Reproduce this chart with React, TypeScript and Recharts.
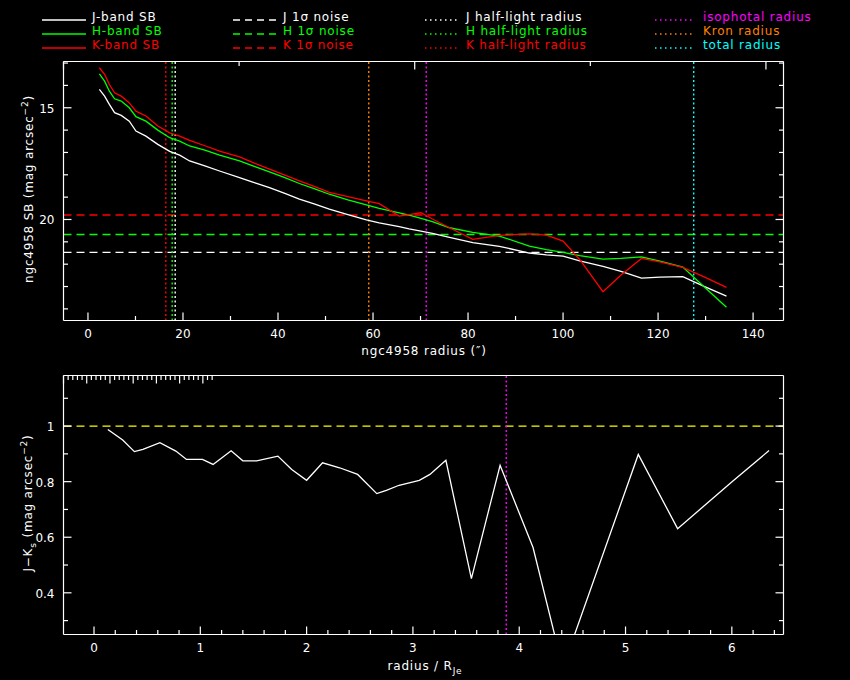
import React from 'react';
import { ComposedChart, Line, XAxis, YAxis, ReferenceLine } from 'recharts';

// surface brightness profiles of ngc4958 (radius in arcsec, SB in mag arcsec^-2)
const radius = [
  2.4, 3.5, 4.5, 5.6, 7.0, 8.7, 10.1, 12.2, 14.7, 17.2, 19.3, 21.4, 24.6, 27.7,
  31.9, 35.0, 38.2, 41.3, 44.5, 47.6, 50.8, 54.7, 58.6, 61.3, 65.5, 67.6, 70.1,
  72.5, 76.1, 81.0, 86.6, 92.9, 96.5, 100.0, 103.5, 108.4, 112.2, 116.5, 120.4,
  125.2, 129.8, 134.4,
];
const jBand = [
  14.18, 14.48, 14.85, 15.22, 15.34, 15.6, 16.04, 16.27, 16.64, 16.95, 17.12,
  17.38, 17.6, 17.83, 18.13, 18.35, 18.57, 18.82, 19.09, 19.3, 19.54, 19.78,
  20.02, 20.15, 20.32, 20.42, 20.52, 20.62, 20.8, 21.04, 21.2, 21.5, 21.58,
  21.64, 21.85, 22.1, 22.32, 22.62, 22.58, 22.56, 23.0, 23.43,
];
const hBand = [
  13.48, 13.81, 14.26, 14.6, 14.7, 15.0, 15.4, 15.6, 16.0, 16.34, 16.49, 16.71,
  16.9, 17.12, 17.38, 17.62, 17.87, 18.12, 18.39, 18.62, 18.87, 19.12, 19.35,
  19.5, 19.7, 19.8, 19.95, 20.1, 20.37, 20.58, 20.74, 21.19, 21.35, 21.47,
  21.62, 21.77, 21.74, 21.67, 21.86, 22.13, 23.03, 23.93,
];
const kBand = [
  13.21, 13.51, 13.96, 14.33, 14.48, 14.78, 15.15, 15.37, 15.82, 16.12, 16.27,
  16.46, 16.7, 16.94, 17.2, 17.48, 17.75, 18.0, 18.27, 18.52, 18.79, 18.98,
  19.17, 19.29, 19.85, 19.78, 19.7, 19.98, 20.37, 20.89, 20.71, 20.64, 20.7,
  20.97, 21.79, 23.23, 22.48, 21.74, 21.9, 22.14, 22.58, 23.04,
];

// 1-sigma noise levels
const jNoise = 21.47;
const hNoise = 20.67;
const kNoise = 19.8;

// characteristic radii (arcsec)
const jHalfLight = 18.36;
const hHalfLight = 17.73;
const kHalfLight = 16.38;
const isophotalRadius = 71.2;
const kronRadius = 59.1;
const totalRadius = 127.5;

// J-Ks colour profile against radius / R_Je
const ratio = [
  0.13, 0.27, 0.38, 0.46, 0.62, 0.77, 0.87, 1.02, 1.12, 1.29, 1.4, 1.53, 1.73,
  1.86, 2.0, 2.15, 2.31, 2.48, 2.66, 2.75, 2.87, 3.06, 3.16, 3.31, 3.55, 3.82,
  4.13, 4.41, 5.12, 5.49, 6.01, 6.35,
];
const jkColour = [
  0.988, 0.95, 0.908, 0.916, 0.94, 0.91, 0.88, 0.88, 0.862, 0.911, 0.875, 0.875,
  0.892, 0.844, 0.805, 0.868, 0.85, 0.826, 0.757, 0.769, 0.787, 0.805, 0.826,
  0.877, 0.451, 0.859, 0.563, 0.13, 0.898, 0.631, 0.802, 0.912,
];
const colourRef = 1;

// ticks
const sbXTicks = [0, 10, 20, 30, 40, 50, 60, 70, 80, 90, 100, 110, 120, 130, 140];
const sbXMajor = [0, 20, 40, 60, 80, 100, 120, 140];
const sbYTicks = [13, 14, 15, 16, 17, 18, 19, 20, 21, 22, 23, 24];
const sbYMajor = [15, 20];
const colXTicks = [
  0, 0.2, 0.4, 0.6, 0.8, 1, 1.2, 1.4, 1.6, 1.8, 2, 2.2, 2.4, 2.6, 2.8, 3, 3.2,
  3.4, 3.6, 3.8, 4, 4.2, 4.4, 4.6, 4.8, 5, 5.2, 5.4, 5.6, 5.8, 6, 6.2, 6.4,
];
const colXMajor = [0, 1, 2, 3, 4, 5, 6];
const colYTicks = [0.3, 0.4, 0.5, 0.6, 0.7, 0.8, 0.9, 1, 1.1];
const colYMajor = [0.4, 0.6, 0.8, 1];

const WHITE = '#ffffff';
const GREEN = '#00ff00';
const RED = '#ff0000';
const MAGENTA = '#ff00ff';
const ORANGE = '#ff8000';
const CYAN = '#00ffff';
const YELLOW = '#ffff00';

const FONT = '"DejaVu Sans", sans-serif';

const sbData = radius.map((r, i) => ({ r, j: jBand[i], h: hBand[i], k: kBand[i] }));
const colData = ratio.map((x, i) => ({ x, jk: jkColour[i] }));

type Side = 'bottom' | 'top' | 'left' | 'right';

// ticks are drawn inside the frame, labels only on majors
function makeTick(side: Side, majors: number[], label: boolean) {
  return (props: any) => {
    const { x, y, payload } = props;
    const v = payload.value;
    const major = majors.some(m => Math.abs(m - v) < 1e-6);
    const len = major ? 8 : 4.5;
    let l = { x1: x, y1: y, x2: x, y2: y };
    if (side === 'bottom') l.y2 = y - len;
    if (side === 'top') l.y2 = y + len;
    if (side === 'left') l.x2 = x + len;
    if (side === 'right') l.x2 = x - len;
    return (
      <g>
        <line {...l} stroke={WHITE} strokeWidth={1.2} />
        {label && major && side === 'bottom' && (
          <text x={x} y={y + 17} textAnchor="middle" fill={WHITE} fontSize={12} fontFamily={FONT}>
            {String(v)}
          </text>
        )}
        {label && major && side === 'left' && (
          <text x={x - 9} y={y + 5} textAnchor="end" fill={WHITE} fontSize={12} fontFamily={FONT}>
            {String(v)}
          </text>
        )}
      </g>
    );
  };
}

const legendCols = [
  {
    x: 42, w: 44, tx: 92, dash: undefined,
    items: [['J-band SB', WHITE], ['H-band SB', GREEN], ['K-band SB', RED]],
  },
  {
    x: 233, w: 44, tx: 283, dash: '7 5',
    items: [['J 1σ noise', WHITE], ['H 1σ noise', GREEN], ['K 1σ noise', RED]],
  },
  {
    x: 425, w: 32, tx: 466, dash: '1.5 3.5',
    items: [['J half-light radius', WHITE], ['H half-light radius', GREEN], ['K half-light radius', RED]],
  },
  {
    x: 655, w: 39, tx: 703, dash: '1.5 3.5',
    items: [['isophotal radius', MAGENTA], ['Kron radius', ORANGE], ['total radius', CYAN]],
  },
];

const textStyle = { fill: WHITE, fontFamily: FONT, fontSize: 12, letterSpacing: 0.8 };

export default function App() {
  const vDash = '2 2.5';
  const hDash = '8 5';
  const refW = 1.4;
  const curveW = 1.3;
  return (
    <div style={{ position: 'absolute', left: 0, top: 0, width: 850, height: 680, background: '#000', overflow: 'hidden' }}>
      {/* surface brightness panel */}
      <div style={{ position: 'absolute', left: 0, top: 0 }}>
        <ComposedChart
          width={850}
          height={370}
          data={sbData}
          margin={{ top: 60.5, right: 56.5, bottom: 19.5, left: 13.5 }}
        >
          <XAxis
            dataKey="r"
            type="number"
            domain={[-5.15, 146.4]}
            allowDataOverflow
            ticks={sbXTicks}
            interval={0}
            height={30}
            tickSize={0}
            tickMargin={0}
            axisLine={{ stroke: WHITE, strokeWidth: 1.2 }}
            tickLine={false}
            tick={makeTick('bottom', sbXMajor, true)}
          />
          <XAxis
            xAxisId="t"
            orientation="top"
            type="number"
            domain={[-5.15, 146.4]}
            allowDataOverflow
            ticks={sbXTicks}
            interval={0}
            height={1}
            tickSize={0}
            tickMargin={0}
            axisLine={{ stroke: WHITE, strokeWidth: 1.2 }}
            tickLine={false}
            tick={makeTick('top', sbXMajor, false)}
          />
          <YAxis
            type="number"
            reversed
            domain={[12.93, 24.52]}
            allowDataOverflow
            ticks={sbYTicks}
            interval={0}
            width={50}
            tickSize={0}
            tickMargin={0}
            axisLine={{ stroke: WHITE, strokeWidth: 1.2 }}
            tickLine={false}
            tick={makeTick('left', sbYMajor, true)}
          />
          <YAxis
            yAxisId="r"
            orientation="right"
            type="number"
            reversed
            domain={[12.93, 24.52]}
            allowDataOverflow
            ticks={sbYTicks}
            interval={0}
            width={10}
            tickSize={0}
            tickMargin={0}
            axisLine={{ stroke: WHITE, strokeWidth: 1.2 }}
            tickLine={false}
            tick={makeTick('right', sbYMajor, false)}
          />

          <ReferenceLine y={jNoise} stroke={WHITE} strokeWidth={refW} strokeDasharray={hDash} />
          <ReferenceLine y={hNoise} stroke={GREEN} strokeWidth={refW} strokeDasharray={hDash} />
          <ReferenceLine y={kNoise} stroke={RED} strokeWidth={refW} strokeDasharray={hDash} />

          <ReferenceLine x={jHalfLight} stroke={WHITE} strokeWidth={refW} strokeDasharray={vDash} />
          <ReferenceLine x={hHalfLight} stroke={GREEN} strokeWidth={refW} strokeDasharray={vDash} />
          <ReferenceLine x={kHalfLight} stroke={RED} strokeWidth={refW} strokeDasharray={vDash} />
          <ReferenceLine x={kronRadius} stroke={ORANGE} strokeWidth={refW} strokeDasharray={vDash} />
          <ReferenceLine x={isophotalRadius} stroke={MAGENTA} strokeWidth={refW} strokeDasharray={vDash} />
          <ReferenceLine x={totalRadius} stroke={CYAN} strokeWidth={refW} strokeDasharray={vDash} />

          <Line type="linear" dataKey="j" stroke={WHITE} strokeWidth={curveW} dot={false} isAnimationActive={false} />
          <Line type="linear" dataKey="h" stroke={GREEN} strokeWidth={curveW} dot={false} isAnimationActive={false} />
          <Line type="linear" dataKey="k" stroke={RED} strokeWidth={curveW} dot={false} isAnimationActive={false} />
        </ComposedChart>
      </div>

      {/* colour panel */}
      <div style={{ position: 'absolute', left: 0, top: 370 }}>
        <ComposedChart
          width={850}
          height={310}
          data={colData}
          margin={{ top: 4.5, right: 56.5, bottom: 15.5, left: 13.5 }}
        >
          <XAxis
            dataKey="x"
            type="number"
            domain={[-0.287, 6.486]}
            allowDataOverflow
            ticks={colXTicks}
            interval={0}
            height={30}
            tickSize={0}
            tickMargin={0}
            axisLine={{ stroke: WHITE, strokeWidth: 1.2 }}
            tickLine={false}
            tick={makeTick('bottom', colXMajor, true)}
          />
          <XAxis
            xAxisId="t"
            orientation="top"
            type="number"
            domain={[-0.287, 6.486]}
            allowDataOverflow
            ticks={colXTicks}
            interval={0}
            height={1}
            tickSize={0}
            tickMargin={0}
            axisLine={{ stroke: WHITE, strokeWidth: 1.2 }}
            tickLine={false}
            tick={makeTick('top', colXMajor, false)}
          />
          <YAxis
            type="number"
            domain={[0.25, 1.182]}
            allowDataOverflow
            ticks={colYTicks}
            interval={0}
            width={50}
            tickSize={0}
            tickMargin={0}
            axisLine={{ stroke: WHITE, strokeWidth: 1.2 }}
            tickLine={false}
            tick={makeTick('left', colYMajor, true)}
          />
          <YAxis
            yAxisId="r"
            orientation="right"
            type="number"
            domain={[0.25, 1.182]}
            allowDataOverflow
            ticks={colYTicks}
            interval={0}
            width={10}
            tickSize={0}
            tickMargin={0}
            axisLine={{ stroke: WHITE, strokeWidth: 1.2 }}
            tickLine={false}
            tick={makeTick('right', colYMajor, false)}
          />

          <ReferenceLine y={colourRef} stroke={YELLOW} strokeWidth={refW} strokeDasharray={hDash} />
          <ReferenceLine x={isophotalRadius / jHalfLight} stroke={MAGENTA} strokeWidth={refW} strokeDasharray={vDash} />

          <Line type="linear" dataKey="jk" stroke={WHITE} strokeWidth={curveW} dot={false} isAnimationActive={false} />
        </ComposedChart>
      </div>

      {/* legend and axis titles */}
      <svg width={850} height={680} style={{ position: 'absolute', left: 0, top: 0, pointerEvents: 'none' }}>
        {legendCols.map((col, ci) =>
          col.items.map(([label, color], ri) => {
            const y = 20.5 + ri * 14;
            return (
              <g key={`${ci}-${ri}`}>
                <line
                  x1={col.x}
                  x2={col.x + col.w}
                  y1={y - 0.5}
                  y2={y - 0.5}
                  stroke={color}
                  strokeWidth={1.4}
                  strokeDasharray={col.dash}
                />
                <text x={col.tx} y={y} {...textStyle} fill={color}>
                  {label}
                </text>
              </g>
            );
          })
        )}

        <text x={424} y={355} textAnchor="middle" {...textStyle}>
          ngc4958 radius (″)
        </text>
        <text transform="translate(33,189) rotate(-90)" textAnchor="middle" {...textStyle}>
          ngc4958 SB (mag arcsec<tspan dy={-5} fontSize={9}>−2</tspan>
          <tspan dy={5}>)</tspan>
        </text>

        <text x={425} y={670} textAnchor="middle" {...textStyle}>
          radius / R<tspan dy={4} fontSize={9}>Je</tspan>
        </text>
        <text transform="translate(32,503) rotate(-90)" textAnchor="middle" {...textStyle}>
          J−K<tspan dy={4} fontSize={9}>s</tspan>
          <tspan dy={-4}> (mag arcsec</tspan>
          <tspan dy={-5} fontSize={9}>−2</tspan>
          <tspan dy={5}>)</tspan>
        </text>
      </svg>
    </div>
  );
}
